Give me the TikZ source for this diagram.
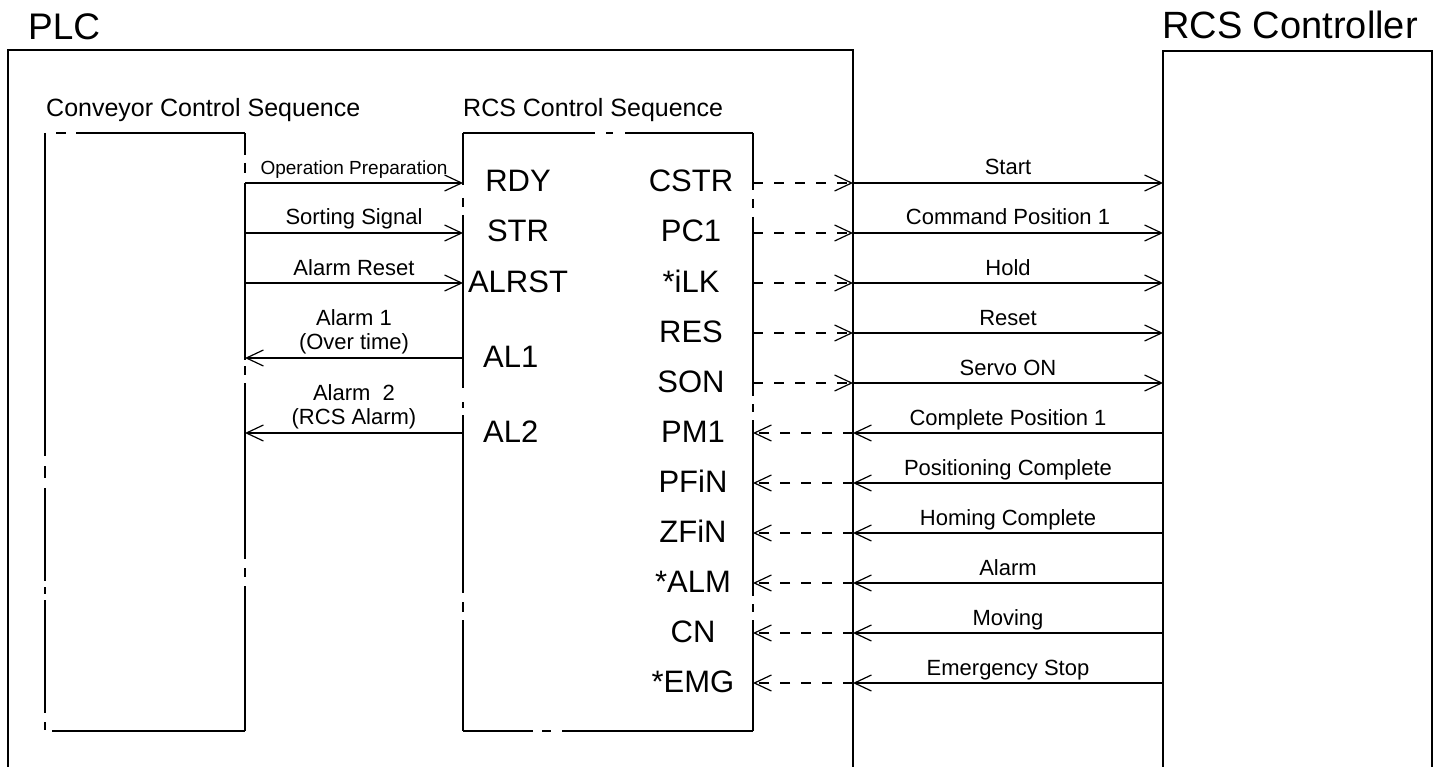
\documentclass[tikz,border=0pt]{standalone}
\usepackage{fontspec}
\setmainfont{Liberation Sans}
\usetikzlibrary{arrows.meta}
\begin{document}
\begin{tikzpicture}[x=1pt,y=-1pt,
  outer/.style={line width=2.9pt, line join=miter},
  frame/.style={line width=1.3pt},
  sig/.style={line width=1.2pt},
  dsig/.style={sig, dash pattern=on 10pt off 11pt},
  tip/.style={-{Straight Barb[length=17pt,width=16pt]}},
  title/.style={font=\fontsize{37}{40}\selectfont, inner sep=0pt, anchor=base west},
  head/.style={font=\fontsize{25}{28}\selectfont, inner sep=0pt, anchor=base west},
  pin/.style={font=\fontsize{31}{33}\selectfont, inner sep=0pt, anchor=base},
  pinw/.style={pin, anchor=base west},
  lbl/.style={font=\fontsize{22}{24}\selectfont, inner sep=0pt, anchor=base, align=center},
  slbl/.style={lbl, font=\fontsize{19}{22}\selectfont},
]
\useasboundingbox (0,0) rectangle (1439,767);

% outer enclosures, open at the bottom
\draw[outer] (8,800) |- (853,50) -- (853,800);
\draw[outer] (1163,800) |- (1432,51) -- (1432,800);
\node[title] (plc) at (28,40) {PLC};
\node[title,font=\fontsize{38}{40}\selectfont] (rcs) at (1162,39) {RCS Controller};

% section headings
\node[head] (convhead) at (46,117) {Conveyor Control Sequence};
\node[head] (seqhead) at (463,117) {RCS Control Sequence};

% conveyor sequence block (broken outline)
\draw[frame]
  (56,133) -- (66,133)  (76,133) -- (245,133)
  (245,133) -- (245,155)  (245,163) -- (245,173)  (245,183) -- (245,360)
  (245,366) -- (245,375)  (245,383) -- (245,559)  (245,568) -- (245,577)
  (245,586) -- (245,731)
  (52,731) -- (245,731)
  (45,133) -- (45,456)  (45,466) -- (45,478)  (45,488) -- (45,581)
  (45,587) -- (45,594)  (45,600) -- (45,713)  (45,722) -- (45,730);

% RCS sequence block (broken outline)
\draw[frame]
  (463,133) -- (595,133)  (606,133) -- (613,133)  (625,133) -- (753,133)
  (463,133) -- (463,185)  (463,198) -- (463,207)  (463,215) -- (463,388)
  (463,402) -- (463,408)  (463,415) -- (463,593)  (463,602) -- (463,612)
  (463,620) -- (463,731)
  (753,133) -- (753,190)  (753,199) -- (753,208)  (753,217) -- (753,396)
  (753,404) -- (753,412)  (753,420) -- (753,596)  (753,604) -- (753,612)
  (753,620) -- (753,731)
  (463,731) -- (533,731)  (542,731) -- (551,731)  (562,731) -- (753,731);

% conveyor -> RCS sequence inputs
\foreach \y/\p [count=\i] in {183/RDY, 233/STR, 283/ALRST} {
  \coordinate (ci\i) at (245,\y);
  \coordinate (si\i) at (463,\y);
  \draw[sig,tip] (ci\i) -- (si\i);
  \node[pin] (inpin\i) at (518,\y+9) {\p};
}
\node[slbl] (lop) at (354,175) {Operation Preparation};
\node[lbl] (lsort) at (354,225) {Sorting Signal};
\node[lbl] (lrst) at (354,275) {Alarm Reset};

% RCS sequence -> conveyor alarms
\foreach \y/\p [count=\i] in {358/AL1, 433/AL2} {
  \coordinate (sa\i) at (463,\y);
  \coordinate (ca\i) at (245,\y);
  \draw[sig,tip] (sa\i) -- (ca\i);
  \node[pinw] (alpin\i) at (483,\y+9) {\p};
}
\node[lbl] (lal1) at (354,349) {Alarm 1\\(Over time)};
\node[lbl] (lal2) at (354,424) {Alarm\ \ 2\\(RCS Alarm)};

% RCS sequence -> controller outputs
\foreach \y/\p/\t [count=\i] in {183/CSTR/Start, 233/PC1/Command Position 1,
    283/*iLK/Hold, 333/RES/Reset, 383/SON/Servo ON} {
  \coordinate (so\i) at (753,\y);
  \coordinate (po\i) at (853,\y);
  \coordinate (ro\i) at (1163,\y);
  \draw[dsig,tip] (so\i) -- (po\i);
  \draw[sig,tip] (po\i) -- (ro\i);
  \node[pin] (outpin\i) at (691,\y+9) {\p};
  \node[lbl] (outlbl\i) at (1008,\y-8) {\t};
}

% controller -> RCS sequence inputs
\foreach \y/\p/\t [count=\i] in {433/PM1/Complete Position 1,
    483/PFiN/Positioning Complete, 533/ZFiN/Homing Complete,
    583/*ALM/Alarm, 633/CN/Moving, 683/*EMG/Emergency Stop} {
  \coordinate (ri\i) at (1163,\y);
  \coordinate (pi\i) at (853,\y);
  \coordinate (sr\i) at (753,\y);
  \draw[sig,tip] (ri\i) -- (pi\i);
  \draw[dsig,tip] (pi\i) -- (sr\i);
  \node[pin] (rinpin\i) at (693,\y+9) {\p};
  \node[lbl] (rinlbl\i) at (1008,\y-8) {\t};
}
\end{tikzpicture}
\end{document}
